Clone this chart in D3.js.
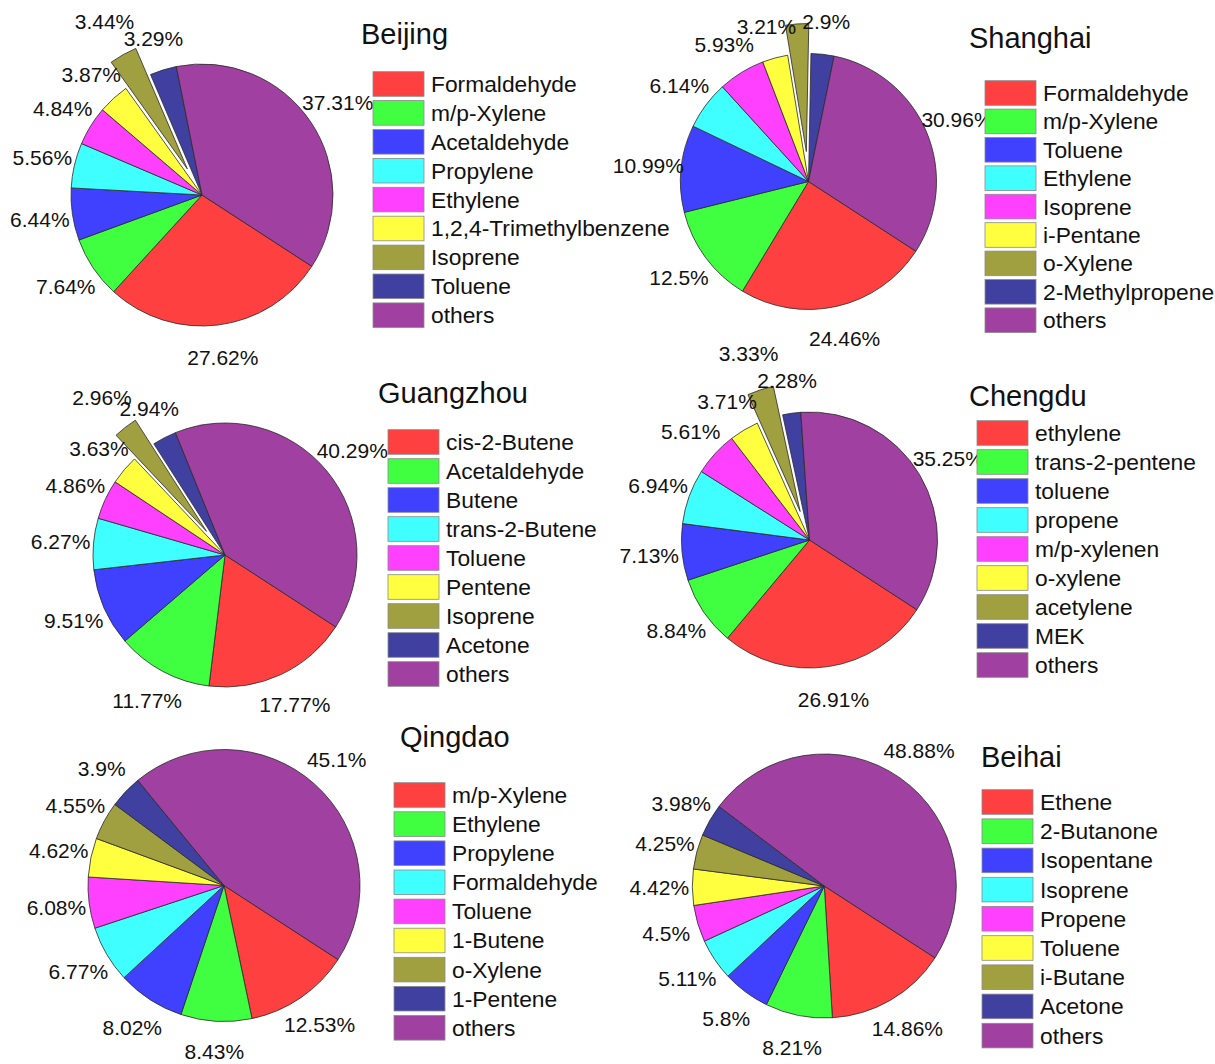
<!DOCTYPE html>
<html>
<head>
<meta charset="utf-8">
<script src="https://cdn.jsdelivr.net/npm/d3@7"></script>
<style>
  html, body { margin: 0; padding: 0; background: #ffffff; }
  svg { display: block; }
  text { font-family: "Liberation Sans", Arial, "DejaVu Sans", sans-serif; fill: #111; }
</style>
</head>
<body>
<svg id="chart" width="1215" height="1064"></svg>
<script>
// ---------------- DATA ----------------
const beijingCategories = ["Formaldehyde","m/p-Xylene","Acetaldehyde","Propylene","Ethylene","1,2,4-Trimethylbenzene","Isoprene","Toluene","others"];
const beijingValues     = [27.62, 7.64, 6.44, 5.56, 4.84, 3.87, 3.44, 3.29, 37.31];

const shanghaiCategories = ["Formaldehyde","m/p-Xylene","Toluene","Ethylene","Isoprene","i-Pentane","o-Xylene","2-Methylpropene","others"];
const shanghaiValues     = [24.46, 12.5, 10.99, 6.14, 5.93, 3.21, 2.91, 2.9, 30.96];

const guangzhouCategories = ["cis-2-Butene","Acetaldehyde","Butene","trans-2-Butene","Toluene","Pentene","Isoprene","Acetone","others"];
const guangzhouValues     = [17.77, 11.77, 9.51, 6.27, 4.86, 3.63, 2.96, 2.94, 40.29];

const chengduCategories = ["ethylene","trans-2-pentene","toluene","propene","m/p-xylenen","o-xylene","acetylene","MEK","others"];
const chengduValues     = [26.91, 8.84, 7.13, 6.94, 5.61, 3.71, 3.33, 2.28, 35.25];

const qingdaoCategories = ["m/p-Xylene","Ethylene","Propylene","Formaldehyde","Toluene","1-Butene","o-Xylene","1-Pentene","others"];
const qingdaoValues     = [12.53, 8.43, 8.02, 6.77, 6.08, 4.62, 4.55, 3.9, 45.1];

const beihaiCategories = ["Ethene","2-Butanone","Isopentane","Isoprene","Propene","Toluene","i-Butane","Acetone","others"];
const beihaiValues     = [14.86, 8.21, 5.8, 5.11, 4.5, 4.42, 4.25, 3.98, 48.88];

const cityNames = ["Beijing","Shanghai","Guangzhou","Chengdu","Qingdao","Beihai"];

// ---------------- STYLE / LAYOUT ----------------
const sliceColors = ["#ff4040","#40ff40","#4040ff","#40ffff","#ff40ff","#ffff40","#a0a040","#4040a0","#a040a0"];

const panels = [
  {name: cityNames[0], cats: beijingCategories,   vals: beijingValues,   cx: 202,   cy: 195,   r: 131, explode: 6,  tx: 361, ty: 44,  lx: 373, ly: 84,  step: 28.9},
  {name: cityNames[1], cats: shanghaiCategories,  vals: shanghaiValues,  cx: 808.5, cy: 181.5, r: 128, explode: 6,  tx: 969, ty: 48,  lx: 985, ly: 93,  step: 28.4},
  {name: cityNames[2], cats: guangzhouCategories, vals: guangzhouValues, cx: 225,   cy: 555,   r: 132, explode: 6,  tx: 378, ty: 403, lx: 388, ly: 442, step: 29.0},
  {name: cityNames[3], cats: chengduCategories,   vals: chengduValues,   cx: 809.5, cy: 540,   r: 128, explode: 6,  tx: 969, ty: 406, lx: 977, ly: 433, step: 29.0},
  {name: cityNames[4], cats: qingdaoCategories,   vals: qingdaoValues,   cx: 224,   cy: 885.5, r: 136, explode: -1, tx: 400, ty: 747, lx: 394, ly: 795, step: 29.1},
  {name: cityNames[5], cats: beihaiCategories,    vals: beihaiValues,    cx: 824.3, cy: 886,   r: 132, explode: -1, tx: 981, ty: 767, lx: 982, ly: 802, step: 29.2}
];

const W = 1215, H = 1064;
const START = 123 * Math.PI / 180;
const EXPLODE_D = 30;
const LABEL_FS = 21;
const LEGEND_FS = 22.8;
const TITLE_FS = 29;

const svg = d3.select("#chart");
svg.append("rect").attr("width", W).attr("height", H).attr("fill", "#fff");

const pie = d3.pie().sort(null).value(d => d)
  .startAngle(START).endAngle(START + 2 * Math.PI);

panels.forEach(p => {
  const g = svg.append("g").attr("class", "panel");
  const color = d3.scaleOrdinal().domain(p.cats).range(sliceColors);
  const arcs = pie(p.vals);
  const arc = d3.arc().innerRadius(0).outerRadius(p.r);

  const pg = g.append("g").attr("transform", `translate(${p.cx},${p.cy})`);

  // slices
  pg.selectAll("path.slice").data(arcs).join("path")
    .attr("class", "slice")
    .attr("d", arc)
    .attr("fill", (d, i) => color(p.cats[i]))
    .attr("stroke", "#2a2a2a")
    .attr("stroke-width", 0.8)
    .attr("transform", (d, i) => {
      if (i !== p.explode) return null;
      const a = (d.startAngle + d.endAngle) / 2;
      return `translate(${EXPLODE_D * Math.sin(a)},${-EXPLODE_D * Math.cos(a)})`;
    });

  // labels
  pg.selectAll("text.lbl").data(arcs).join("text")
    .attr("class", "lbl")
    .each(function(d, i) {
      const a = (d.startAngle + d.endAngle) / 2;
      const rr = p.r + 33 + (i === p.explode ? EXPLODE_D + 5 : 0);
      const x = rr * Math.sin(a);
      let y = -rr * Math.cos(a) + LABEL_FS * 0.358;
      // keep the baseline clear of the bottom edge
      y = Math.min(y, H - p.cy - LABEL_FS * 0.25);
      d3.select(this).attr("x", x).attr("y", y)
        .style("display", (p.cy + y - LABEL_FS * 0.72) < 0 ? "none" : null);
    })
    .attr("text-anchor", "middle")
    .attr("font-size", LABEL_FS)
    .text(d => d.data + "%");

  // title
  g.append("text")
    .attr("x", p.tx).attr("y", p.ty)
    .attr("font-size", TITLE_FS)
    .text(p.name);

  // legend
  const lg = g.append("g");
  const rows = lg.selectAll("g.row").data(p.cats).join("g")
    .attr("class", "row")
    .attr("transform", (d, i) => `translate(${p.lx},${p.ly + i * p.step})`);
  rows.append("rect")
    .attr("x", 0).attr("y", -12.3)
    .attr("width", 51).attr("height", 24.6)
    .attr("fill", d => color(d))
    .attr("stroke", "#8a8a8a")
    .attr("stroke-width", 0.8);
  rows.append("text")
    .attr("x", 58).attr("y", LEGEND_FS * 0.35)
    .attr("font-size", LEGEND_FS)
    .text(d => d);
});
</script>
</body>
</html>
